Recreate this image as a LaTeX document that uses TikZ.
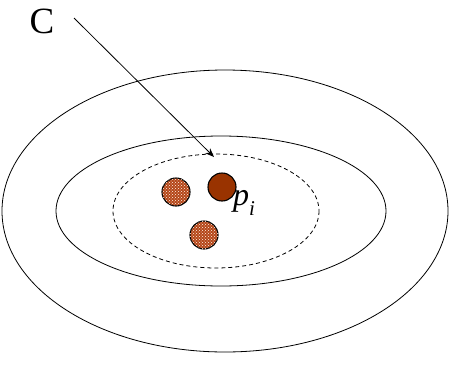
\documentclass[tikz,border=0pt]{standalone}
\usepackage{fontspec}
\setmainfont{Liberation Serif}
\usepackage{tikz}
\usetikzlibrary{patterns, arrows.meta}

\definecolor{hatnau}{RGB}{153,51,0}
\definecolor{hatvan}{RGB}{180,70,25}

\tikzset{
    vienh/.style={draw, line width=0.8pt},
    hatdac/.style={draw, line width=1.1pt, fill=hatnau},
    hatvan/.style={draw, line width=1.1pt, fill=hatvan,
        postaction={pattern=crosshatch dots, pattern color=white!90!orange}}
}

\begin{document}
\begin{tikzpicture}[x=1pt, y=-1pt, >={Stealth[length=9pt, width=7pt]}]
    % Khung hình theo kích thước ảnh gốc
    \useasboundingbox (0,0) rectangle (450,370);

    % Ba đường elip lồng nhau
    \draw[vienh] (225,211) ellipse [x radius=223, y radius=141];
    \draw[vienh] (221,211) ellipse [x radius=165, y radius=75];
    \draw[vienh, dashed, dash pattern=on 4pt off 3pt] (216,211) ellipse [x radius=103, y radius=57];

    % Các điểm dữ liệu
    \node[circle, hatvan, minimum size=28pt, inner sep=0pt] (q1) at (176,192) {};
    \node[circle, hatdac, minimum size=28pt, inner sep=0pt] (pi) at (222,187) {};
    \node[circle, hatvan, minimum size=28pt, inner sep=0pt] (q2) at (204,235) {};
    \node[font=\fontsize{32}{32}\selectfont\itshape, anchor=west, inner sep=0pt] (nhanp) at (233,203)
        {p\raisebox{-0.3em}{\fontsize{21}{21}\selectfont i}};

    % Nhãn C và mũi tên chỉ vào đường nét đứt
    \node[font=\fontsize{37}{37}\selectfont, inner sep=0pt] (nhanC) at (42,21) {C};
    \coordinate (dauC) at (74,18);
    \coordinate (dich) at (214,157);
    \draw[->, line width=0.8pt] (dauC) -- (dich);
\end{tikzpicture}
\end{document}
